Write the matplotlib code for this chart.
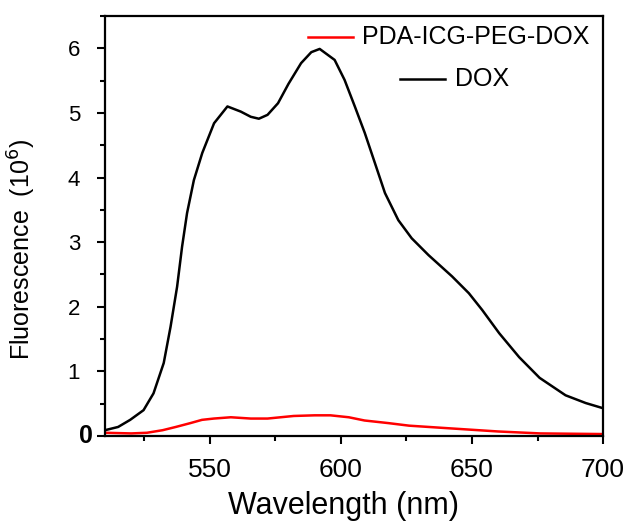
import numpy as np
import matplotlib
matplotlib.use("Agg")
import matplotlib.pyplot as plt
from matplotlib.ticker import MultipleLocator, FuncFormatter
import matplotlib.transforms as mtransforms

plt.rcParams['font.family'] = ['Liberation Sans', 'DejaVu Sans']

# DOX emission spectrum (units of 10^6)
dox_wl = [510, 515, 519.6, 524.7, 528.5, 532.4, 535, 537.5, 539.4, 541.3, 543.9, 547.1,
          551.6, 556.7, 561.8, 565.6, 568.7, 572, 576, 580, 584.8, 588.7, 591.9, 597.6,
          601.4, 605.3, 609.1, 613, 616.8, 621.9, 627, 633.4, 642.4, 648.8, 653.9,
          660.4, 668, 675.8, 685.7, 693.4, 700]
dox_int = [0.09, 0.14, 0.25, 0.40, 0.66, 1.13, 1.69, 2.31, 2.93, 3.45, 3.96, 4.38,
           4.84, 5.10, 5.02, 4.94, 4.91, 4.97, 5.15, 5.45, 5.77, 5.94, 5.99, 5.82,
           5.51, 5.10, 4.69, 4.22, 3.76, 3.34, 3.06, 2.80, 2.47, 2.21, 1.95,
           1.59, 1.22, 0.90, 0.63, 0.51, 0.43]

# PDA-ICG-PEG-DOX spectrum
pda_wl = [510, 520, 526, 532, 537, 542.6, 547, 551.5, 558, 565.6, 572, 582, 590, 596,
          603, 609, 618, 626, 641, 660, 676, 700]
pda_int = [0.05, 0.04, 0.05, 0.09, 0.14, 0.20, 0.25, 0.27, 0.29, 0.27, 0.27, 0.31,
           0.32, 0.32, 0.29, 0.24, 0.20, 0.16, 0.12, 0.07, 0.04, 0.03]

fig = plt.figure(figsize=(6.3, 5.29), dpi=100)
ax = fig.add_axes([0.1667, 0.1758, 0.7905, 0.794])

ax.plot(pda_wl, pda_int, color='#ff0000', lw=1.8)
ax.plot(dox_wl, dox_int, color='black', lw=1.8)

ax.set_xlim(510, 700)
ax.set_ylim(0, 6.5)
ax.xaxis.set_major_locator(MultipleLocator(50))
ax.xaxis.set_minor_locator(MultipleLocator(25))
ax.yaxis.set_major_locator(MultipleLocator(1))
ax.yaxis.set_minor_locator(MultipleLocator(0.5))
# the zero label is drawn separately (bold, closer to the axis)
ax.yaxis.set_major_formatter(FuncFormatter(lambda v, p: '' if abs(v) < 1e-9 else f'{v:g}'))
ax.tick_params(which='major', direction='out', length=6, width=1.5)
ax.tick_params(which='minor', direction='out', length=3.5, width=1.5)
ax.tick_params(axis='x', labelsize=19, pad=10)
ax.tick_params(axis='y', labelsize=16, pad=12)
for s in ax.spines.values():
    s.set_linewidth(1.6)

blend = mtransforms.blended_transform_factory(ax.transAxes, ax.transData)
ax.text(-0.024, 0, '0', transform=blend, fontsize=18, fontweight='bold',
        ha='right', va='center')

ax.set_xlabel('Wavelength (nm)', fontsize=22)
ax.set_ylabel('Fluorescence  (10$^{6}$)', fontsize=18)
ax.yaxis.set_label_coords(-0.135, 0.443)
ax.xaxis.set_label_coords(0.478, -0.13)

# legend, entries centred as in the original
tr = ax.transAxes
ax.plot([0.408, 0.498], [0.95, 0.95], color='#ff0000', lw=1.8, transform=tr, clip_on=False)
ax.text(0.516, 0.95, 'PDA-ICG-PEG-DOX', transform=tr, fontsize=18, va='center', ha='left')
ax.plot([0.592, 0.683], [0.85, 0.85], color='black', lw=1.8, transform=tr, clip_on=False)
ax.text(0.703, 0.85, 'DOX', transform=tr, fontsize=18, va='center', ha='left')

fig.savefig('out.png', dpi=100)
